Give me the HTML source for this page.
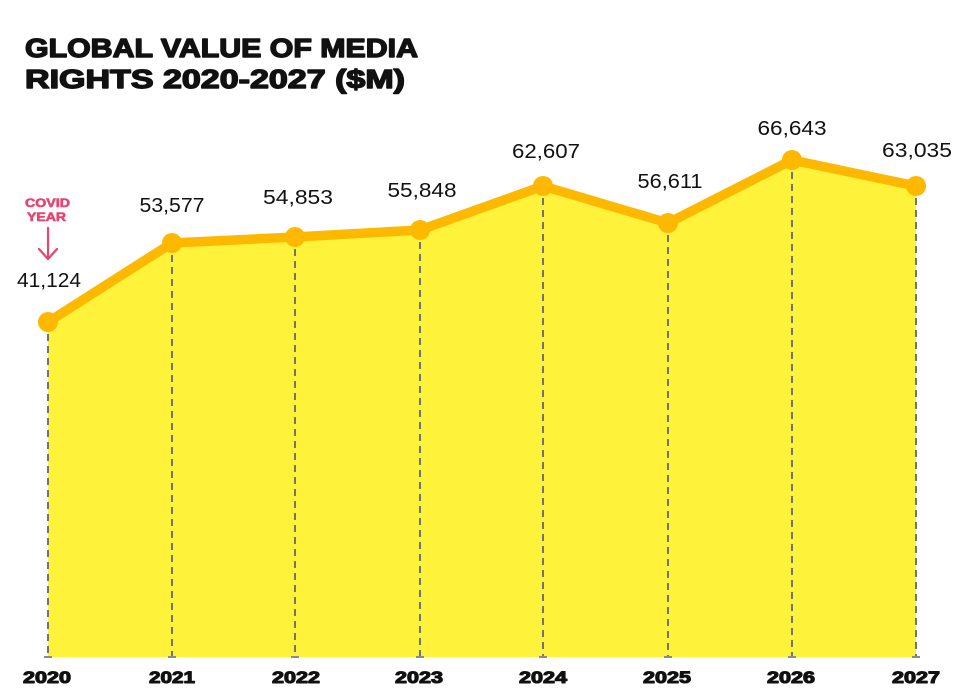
<!DOCTYPE html>
<html>
<head>
<meta charset="utf-8">
<style>
html,body{margin:0;padding:0;background:#fff;}
svg{display:block;}
</style>
</head>
<body>
<svg width="978" height="690" viewBox="0 0 978 690" xmlns="http://www.w3.org/2000/svg">
  <rect width="978" height="690" fill="#ffffff"/>
  <!-- Title -->
  <g font-family="Liberation Sans, Arial, sans-serif" font-weight="bold" font-size="26" fill="#111" stroke="#111" stroke-width="1.4" stroke-linejoin="round">
    <text x="25" y="57" textLength="393" lengthAdjust="spacingAndGlyphs">GLOBAL VALUE OF MEDIA</text>
    <text x="25" y="88" textLength="380" lengthAdjust="spacingAndGlyphs">RIGHTS 2020-2027 ($M)</text>
  </g>

  <!-- Area fill -->
  <polygon fill="#FFF23A" points="48,322 172,243 295,237 420,230 543,186 668,223 792,160 916,186 916,657 48,657"/>

  <!-- Dashed droplines -->
  <g stroke="#737373" stroke-width="2" stroke-dasharray="7,5">
    <line x1="48" y1="322" x2="48" y2="657"/>
    <line x1="172" y1="243" x2="172" y2="657"/>
    <line x1="295" y1="237" x2="295" y2="657"/>
    <line x1="420" y1="230" x2="420" y2="657"/>
    <line x1="543" y1="186" x2="543" y2="657"/>
    <line x1="668" y1="223" x2="668" y2="657"/>
    <line x1="792" y1="160" x2="792" y2="657"/>
    <line x1="916" y1="186" x2="916" y2="657"/>
  </g>
  <g stroke="#8a8a8a" stroke-width="2">
    <line x1="44" y1="657" x2="52" y2="657"/>
    <line x1="168" y1="657" x2="176" y2="657"/>
    <line x1="291" y1="657" x2="299" y2="657"/>
    <line x1="416" y1="657" x2="424" y2="657"/>
    <line x1="539" y1="657" x2="547" y2="657"/>
    <line x1="664" y1="657" x2="672" y2="657"/>
    <line x1="788" y1="657" x2="796" y2="657"/>
    <line x1="912" y1="657" x2="920" y2="657"/>
  </g>

  <!-- Line -->
  <polyline fill="none" stroke="#FFB800" stroke-width="9.5" stroke-linejoin="round" stroke-linecap="round"
    points="48,322 172,243 295,237 420,230 543,186 668,223 792,160 916,186"/>
  <g fill="#FFB800">
    <circle cx="48" cy="322" r="10"/>
    <circle cx="172" cy="243" r="10"/>
    <circle cx="295" cy="237" r="10"/>
    <circle cx="420" cy="230" r="10"/>
    <circle cx="543" cy="186" r="10"/>
    <circle cx="668" cy="223" r="10"/>
    <circle cx="792" cy="160" r="10"/>
    <circle cx="916" cy="186" r="10"/>
  </g>

  <!-- Value labels -->
  <g font-family="Liberation Sans, Arial, sans-serif" font-size="20" fill="#111" text-anchor="middle">
    <text x="49" y="287" textLength="64" lengthAdjust="spacingAndGlyphs">41,124</text>
    <text x="172" y="212" textLength="65" lengthAdjust="spacingAndGlyphs">53,577</text>
    <text x="298" y="204" textLength="70" lengthAdjust="spacingAndGlyphs">54,853</text>
    <text x="422" y="197" textLength="69" lengthAdjust="spacingAndGlyphs">55,848</text>
    <text x="546" y="158" textLength="68" lengthAdjust="spacingAndGlyphs">62,607</text>
    <text x="670" y="188" textLength="65" lengthAdjust="spacingAndGlyphs">56,611</text>
    <text x="792" y="135" textLength="69" lengthAdjust="spacingAndGlyphs">66,643</text>
    <text x="917" y="157" textLength="70" lengthAdjust="spacingAndGlyphs">63,035</text>
  </g>

  <!-- COVID YEAR annotation -->
  <g font-family="Liberation Sans, Arial, sans-serif" font-weight="bold" font-size="12" fill="#E8446F" stroke="#E8446F" stroke-width="0.6" text-anchor="middle">
    <text x="47.5" y="207" textLength="45" lengthAdjust="spacingAndGlyphs">COVID</text>
    <text x="46.5" y="221" textLength="39" lengthAdjust="spacingAndGlyphs">YEAR</text>
  </g>
  <g stroke="#E8446F" stroke-width="2.2" fill="none" stroke-linecap="round" stroke-linejoin="round">
    <line x1="48" y1="228" x2="48" y2="259"/>
    <polyline points="39,249 48,259 57,249"/>
  </g>

  <!-- Year labels -->
  <g font-family="Liberation Sans, Arial, sans-serif" font-weight="bold" font-size="17" fill="#111" stroke="#111" stroke-width="1.1" stroke-linejoin="round" text-anchor="middle">
    <text x="47" y="683" textLength="48" lengthAdjust="spacingAndGlyphs">2020</text>
    <text x="172" y="683" textLength="46" lengthAdjust="spacingAndGlyphs">2021</text>
    <text x="296" y="683" textLength="48" lengthAdjust="spacingAndGlyphs">2022</text>
    <text x="419" y="683" textLength="48" lengthAdjust="spacingAndGlyphs">2023</text>
    <text x="543" y="683" textLength="48" lengthAdjust="spacingAndGlyphs">2024</text>
    <text x="667" y="683" textLength="48" lengthAdjust="spacingAndGlyphs">2025</text>
    <text x="791" y="683" textLength="48" lengthAdjust="spacingAndGlyphs">2026</text>
    <text x="916" y="683" textLength="48" lengthAdjust="spacingAndGlyphs">2027</text>
  </g>
</svg>
</body>
</html>
